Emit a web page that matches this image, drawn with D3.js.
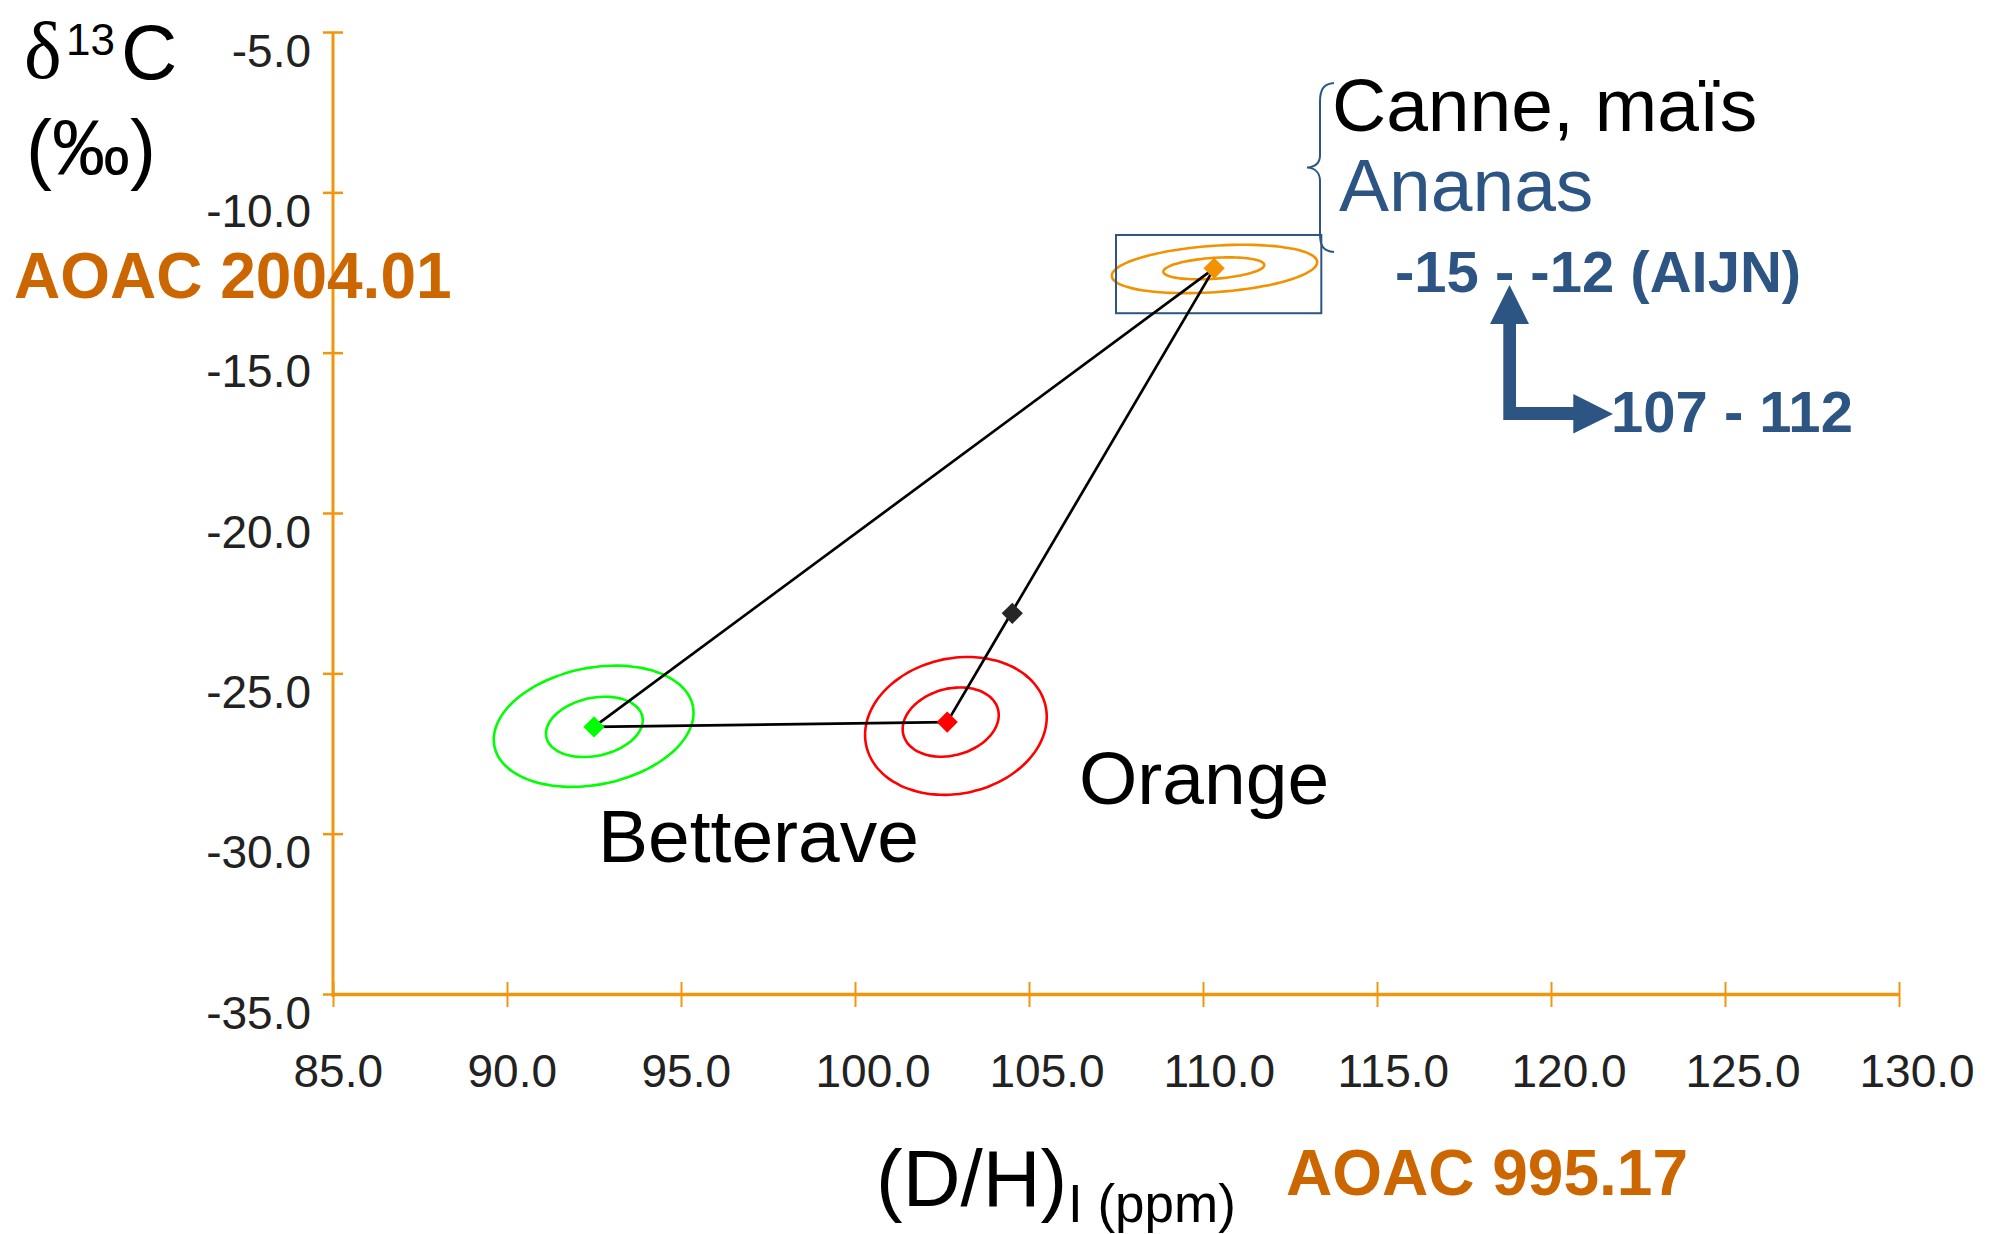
<!DOCTYPE html>
<html>
<head>
<meta charset="utf-8">
<script src="https://cdn.jsdelivr.net/npm/d3@7"></script>
<style>
  body { margin: 0; background: #fff; }
  text { font-family: "Liberation Sans", Arial, sans-serif; }
</style>
</head>
<body>
<svg id="chart" width="2002" height="1234"></svg>
<script>
// axis ticks
const xTicks = [85, 90, 95, 100, 105, 110, 115, 120, 125, 130];
const yTicks = [-35, -30, -25, -20, -15, -10, -5];

// sugar origins: mean (D/H)I and d13C
const sugarNames = ["Betterave", "Orange", "Canne, maïs"];
const sugarDH = [92.5, 102.65, 110.32];
const sugarC13 = [-26.67, -26.52, -12.37];
const sugarColors = ["#00ff00", "#ff0000", "#f39200"];

// mixture point on the orange / cane line
const mixDH = [104.52];
const mixC13 = [-23.13];

// triangle edges (index pairs into sugar arrays)
const edgeFrom = [0, 0, 1];
const edgeTo = [1, 2, 2];

// dispersion ellipses: owner, centre, half-width, half-height (data units), tilt (correlation)
const ringOwner = [0, 0, 1, 1, 2, 2];
const ringDH = [92.49, 92.51, 102.9, 102.75, 110.33, 110.31];
const ringC13 = [-26.65, -26.67, -26.64, -26.52, -12.39, -12.37];
const ringHalfW = [2.87, 1.39, 2.61, 1.38, 2.95, 1.45];
const ringHalfH = [1.89, 0.94, 2.15, 1.08, 0.755, 0.343];
const ringRho = [0.22, 0.22, 0.13, 0.2, 0.28, 0.3];

// AIJN range box for pineapple
const boxDH = [107.5, 113.4];
const boxC13 = [-13.77, -11.33];

const svg = d3.select("#chart");
const axisColor = "#f0960e";
const blue = "#2c5584";
const aoac = "#cc6600";

const x = d3.scaleLinear().domain([85, 130]).range([333, 1899]);
const y = d3.scaleLinear().domain([-35, -5]).range([994, 32]);

// y axis
const yAxis = svg.append("g")
  .attr("transform", `translate(${x(85)},0)`)
  .call(d3.axisLeft(y).tickValues(yTicks).tickSizeOuter(0).tickFormat(d => d.toFixed(1)));
yAxis.select(".domain").attr("stroke", axisColor).attr("stroke-width", 3)
  .attr("d", `M0,${y(-5)}V${y(-35) + 3}`);
yAxis.selectAll(".tick line").attr("stroke", axisColor).attr("stroke-width", 2.5)
  .attr("x1", -10).attr("x2", 10);
yAxis.selectAll(".tick text")
  .attr("x", -22).attr("dy", null).attr("y", 34)
  .attr("fill", "#222").style("font-size", "46px").style("font-family", "Liberation Sans, Arial");

// x axis
const xAxis = svg.append("g")
  .attr("transform", `translate(0,${y(-35)})`)
  .call(d3.axisBottom(x).tickValues(xTicks).tickSizeOuter(0).tickFormat(d => d.toFixed(1)));
xAxis.select(".domain").attr("stroke", axisColor).attr("stroke-width", 3.5);
xAxis.selectAll(".tick line").attr("stroke", axisColor).attr("stroke-width", 2)
  .attr("y1", -12).attr("y2", 13);
xAxis.selectAll(".tick text")
  .attr("y", 93).attr("dy", null).attr("x", -40)
  .attr("text-anchor", "start")
  .attr("fill", "#222").style("font-size", "46px").style("font-family", "Liberation Sans, Arial");

// ellipses
function ringPath(i) {
  const pts = d3.range(0, 360, 4).map(a => {
    const t = a * Math.PI / 180;
    const r = ringRho[i];
    return [
      x(ringDH[i] + ringHalfW[i] * Math.cos(t)),
      y(ringC13[i] + ringHalfH[i] * (r * Math.cos(t) + Math.sqrt(1 - r * r) * Math.sin(t)))
    ];
  });
  return d3.line().curve(d3.curveCardinalClosed)(pts);
}
svg.append("g").selectAll("path")
  .data(ringOwner.map((o, i) => i))
  .join("path")
  .attr("d", i => ringPath(i))
  .attr("fill", "none")
  .attr("stroke", i => sugarColors[ringOwner[i]])
  .attr("stroke-width", 2.6);

// pineapple box
svg.append("rect")
  .attr("x", x(boxDH[0])).attr("y", y(boxC13[1]))
  .attr("width", x(boxDH[1]) - x(boxDH[0]))
  .attr("height", y(boxC13[0]) - y(boxC13[1]))
  .attr("fill", "none").attr("stroke", blue).attr("stroke-width", 2);

// triangle lines
svg.append("g").selectAll("line")
  .data(edgeFrom.map((f, i) => i))
  .join("line")
  .attr("x1", i => x(sugarDH[edgeFrom[i]])).attr("y1", i => y(sugarC13[edgeFrom[i]]))
  .attr("x2", i => x(sugarDH[edgeTo[i]])).attr("y2", i => y(sugarC13[edgeTo[i]]))
  .attr("stroke", "#000").attr("stroke-width", 2.7);

// diamonds
const diamond = d3.symbol(d3.symbolSquare, 225);
svg.append("g").selectAll("path")
  .data(sugarNames.map((n, i) => i))
  .join("path")
  .attr("d", diamond)
  .attr("transform", i => `translate(${x(sugarDH[i])},${y(sugarC13[i])}) rotate(45)`)
  .attr("fill", i => sugarColors[i]);
svg.append("g").selectAll("path")
  .data(mixDH.map((v, i) => i))
  .join("path")
  .attr("d", diamond)
  .attr("transform", i => `translate(${x(mixDH[i])},${y(mixC13[i])}) rotate(45)`)
  .attr("fill", "#262626");

// brace
svg.append("path")
  .attr("d", "M1334,83 C1323,84 1320,90 1320,102 L1320,155 C1320,163 1315,167 1307,167.5 C1315,168 1320,173 1320,181 L1320,234 C1320,246 1323,251 1334,252")
  .attr("fill", "none").attr("stroke", blue).attr("stroke-width", 2);

// arrows
svg.append("path")
  .attr("d", "M1503.3,420 L1503.3,324 L1490,324 L1509.5,285 L1529,324 L1516,324 L1516,407 L1573.3,407 L1573.3,394 L1613,414 L1573.3,433.5 L1573.3,420 Z")
  .attr("fill", blue);

// texts
function label(txt, tx, ty, size, color, weight, family) {
  return svg.append("text")
    .attr("x", tx).attr("y", ty)
    .attr("fill", color)
    .style("font-size", size + "px")
    .style("font-weight", weight || "normal")
    .style("font-family", family || "Liberation Sans, Arial")
    .text(txt);
}

label("δ", 24, 78, 80, "#000", "normal", "Liberation Serif, Times New Roman");
label("13", 66, 55, 44, "#000");
label("C", 121, 79, 78, "#000");
label("(‰)", 26, 175, 78, "#000");
label("AOAC 2004.01", 14, 298, 64, aoac, "bold");

label("Canne, maïs", 1332, 131, 75, "#000");
label("Ananas", 1339, 211, 75, blue);
label("-15 - -12 (AIJN)", 1395, 292, 58, blue, "bold");
label("107 - 112", 1611, 432, 58, blue, "bold");

label("Betterave", 598, 862, 75, "#000");
label("Orange", 1079, 804, 75, "#000");

label("(D/H)", 876, 1206, 80, "#000");
label("I (ppm)", 1068, 1222, 53, "#000");
label("AOAC 995.17", 1286, 1195, 64, aoac, "bold");
</script>
</body>
</html>
